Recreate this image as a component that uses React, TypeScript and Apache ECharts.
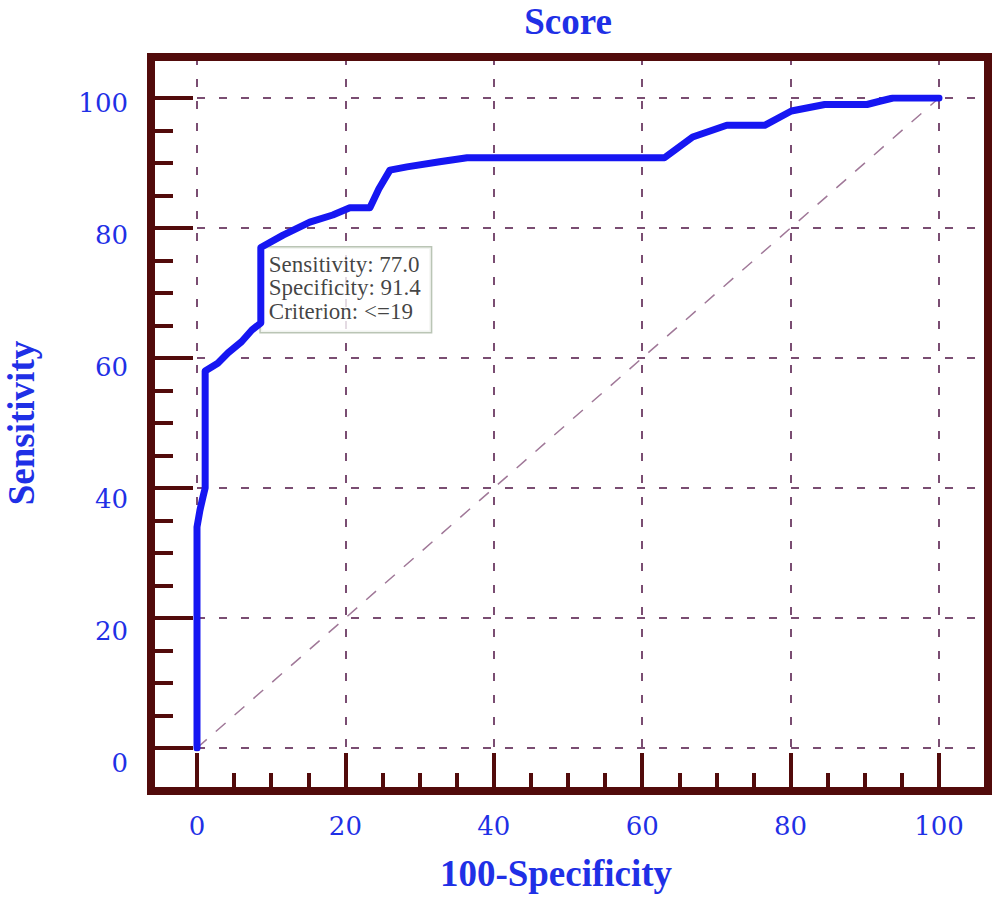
import React, { useEffect, useRef } from "react";
import * as echarts from "echarts";

// ROC curve points (100 - Specificity, Sensitivity)
const oneMinusSpecificity = [0, 0, 0.4, 0.8, 1.1, 1.1, 2.8, 4.2, 6.0, 7.4, 8.6, 8.6, 11.6, 15.2, 18.3, 20.6, 23.3, 24.5, 26.0, 28.3, 32.7, 36.4, 63.0, 66.8, 71.4, 76.5, 80.1, 84.6, 90.3, 92.0, 93.8, 100];
const sensitivity = [0, 34, 36.6, 38.6, 40, 58, 59.2, 60.8, 62.5, 64.3, 65.4, 77, 78.9, 80.9, 82, 83.1, 83.1, 86, 88.9, 89.4, 90.2, 90.8, 90.8, 94, 95.8, 95.8, 98, 99, 99, 99.5, 100, 100];
// Reference (chance) diagonal
const diagonalX = [0, 100];
const diagonalY = [0, 100];
// Optimal criterion
const cutSensitivity = 77.0;
const cutSpecificity = 91.4;
const cutCriterion = "<=19";
// Axis ticks
const tickValues = [0, 20, 40, 60, 80, 100];

// layout (pixels)
const L = 197, R = 939, T = 98, B = 748;
const FL = 151, FR = 988, FT = 57, FB = 791;

const FRAME = "#520b0b";
const GRID = "#7a4d72";
const DIAG = "#a07898";
const BLUE = "#1f30e6";
const CURVE = "#1616f2";

export default function App() {
  const ref = useRef<HTMLDivElement>(null);
  useEffect(() => {
    const chart = echarts.init(ref.current!, null, { renderer: "svg" });
    const tMin = tickValues[0];
    const tMax = tickValues[tickValues.length - 1];
    const tInt = tickValues[1] - tickValues[0];
    const xMax1 = (tMax * (FR - L)) / (R - L);
    const yMax1 = (tMax * (B - FT)) / (B - T);
    const titleStyle = {
      fontFamily: "Liberation Serif",
      fontWeight: "bold" as const,
      fontSize: 37,
      color: BLUE,
    };
    const tickLabel = {
      fontFamily: "DejaVu Serif",
      fontSize: 26,
      color: BLUE,
    };
    // y tick labels sit slightly lower than their ticks, more so towards 0
    const yRich: Record<string, any> = {};
    tickValues.forEach((v, i) => {
      const drop = 5 + 2 * (tickValues.length - 1 - i);
      yRich["t" + i] = { ...tickLabel, padding: [2 * drop, 0, 0, 0] };
    });
    const hidden = { type: "value", show: false, min: tMin, max: tMax };
    const tickStyle = { color: FRAME, width: 4 };
    const dashed = { show: true, lineStyle: { type: [8, 14], color: GRID, width: 2 } };
    const gridBase = { outerBoundsMode: "none", containLabel: false };
    const option: any = {
      animation: false,
      backgroundColor: "#ffffff",
      grid: [
        // 0: data area
        { ...gridBase, left: L, top: T, width: R - L, height: B - T },
        // 1: dashed grid lines, reaching the frame
        { ...gridBase, left: L, top: FT, width: FR - L, height: B - FT },
        // 2: left ticks anchored on the frame
        { ...gridBase, left: FL, top: T, width: R - FL, height: B - T },
        // 3: bottom ticks anchored on the frame
        { ...gridBase, left: L, top: T, width: R - L, height: FB - T },
      ],
      xAxis: [
        {
          type: "value",
          gridIndex: 0,
          min: tMin,
          max: tMax,
          position: "top",
          axisLine: { show: false },
          axisTick: { show: false },
          axisLabel: { show: false },
          splitLine: { show: false },
          name: "Score",
          nameLocation: "middle",
          nameGap: 59,
          nameTextStyle: { ...titleStyle, lineHeight: 36 },
        },
        {
          type: "value",
          gridIndex: 1,
          min: 0,
          max: xMax1,
          interval: tInt,
          axisLine: { show: false },
          axisTick: { show: false },
          axisLabel: { show: false },
          splitLine: dashed,
        },
        { ...hidden, gridIndex: 2 },
        {
          type: "value",
          gridIndex: 3,
          min: tMin,
          max: tMax,
          interval: tInt,
          position: "bottom",
          axisLine: { show: false },
          axisTick: { show: true, inside: true, length: 38, lineStyle: tickStyle },
          minorTick: { show: true, splitNumber: 4, length: 18, lineStyle: tickStyle },
          axisLabel: { ...tickLabel, margin: 22 },
          splitLine: { show: false },
          name: "100-Specificity",
          nameLocation: "middle",
          nameGap: 64,
          nameTextStyle: { ...titleStyle, padding: [0, 24, 0, 0] },
        },
      ],
      yAxis: [
        { ...hidden, gridIndex: 0 },
        {
          type: "value",
          gridIndex: 1,
          min: 0,
          max: yMax1,
          interval: tInt,
          axisLine: { show: false },
          axisTick: { show: false },
          axisLabel: { show: false },
          splitLine: dashed,
        },
        {
          type: "value",
          gridIndex: 2,
          min: tMin,
          max: tMax,
          interval: tInt,
          position: "left",
          axisLine: { show: false },
          axisTick: { show: true, inside: true, length: 42, lineStyle: tickStyle },
          minorTick: { show: true, splitNumber: 4, length: 22, lineStyle: tickStyle },
          axisLabel: {
            ...tickLabel,
            margin: 23,
            verticalAlign: "middle",
            formatter: (v: number) => {
              const i = tickValues.indexOf(v);
              return i >= 0 ? `{t${i}|${v}}` : "";
            },
            rich: yRich,
          },
          splitLine: { show: false },
          name: "Sensitivity",
          nameLocation: "middle",
          nameGap: 111,
          nameTextStyle: titleStyle,
        },
        { ...hidden, gridIndex: 3 },
      ],
      series: [
        {
          type: "line",
          xAxisIndex: 0,
          yAxisIndex: 0,
          data: diagonalX.map((x, i) => [x, diagonalY[i]]),
          showSymbol: false,
          silent: true,
          lineStyle: { color: DIAG, width: 1.5, type: [13, 12] },
          z: 2,
        },
        {
          type: "scatter",
          xAxisIndex: 0,
          yAxisIndex: 0,
          data: [[100 - cutSpecificity, cutSensitivity]],
          symbolSize: 0,
          silent: true,
          label: {
            show: true,
            position: [0, 0],
            align: "left",
            verticalAlign: "top",
            formatter: `Sensitivity: ${cutSensitivity.toFixed(1)}\nSpecificity: ${cutSpecificity.toFixed(1)}\nCriterion: ${cutCriterion}`,
            fontFamily: "Liberation Serif",
            fontSize: 23,
            lineHeight: 23.5,
            color: "#111111",
            backgroundColor: "#ffffff",
            borderColor: "#a9b7a2",
            borderWidth: 1.5,
            padding: [5, 10, 9, 8],
          },
          z: 3,
        },
        {
          type: "line",
          xAxisIndex: 0,
          yAxisIndex: 0,
          data: oneMinusSpecificity.map((x, i) => [x, sensitivity[i]]),
          showSymbol: false,
          silent: true,
          lineStyle: { color: CURVE, width: 7, join: "round", cap: "round" },
          z: 4,
        },
      ],
      graphic: [
        {
          type: "rect",
          z: 100,
          silent: true,
          shape: { x: FL, y: FT, width: FR - FL, height: FB - FT },
          style: { fill: "none", stroke: FRAME, lineWidth: 8 },
        },
      ],
    };
    chart.setOption(option);
    return () => chart.dispose();
  }, []);
  return (
    <div
      ref={ref}
      style={{ position: "absolute", left: 0, top: 0, width: 1000, height: 898 }}
    />
  );
}
